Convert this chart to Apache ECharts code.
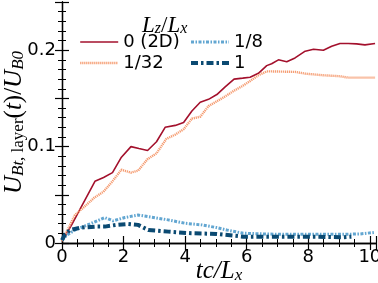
<!DOCTYPE html>
<html><head><meta charset="utf-8">
<script src="https://cdn.jsdelivr.net/npm/echarts@6/dist/echarts.min.js"></script>
<style>html,body{margin:0;padding:0;background:#fff}#c{width:378px;height:283px}</style>
</head><body><div id="c"></div>
<script>
const seriesNames = ['0 (2D)', '1/32', '1/8', '1'];
const t2D = [0, 0.3, 0.6, 1.07, 1.35, 1.64, 1.93, 2.24, 2.5, 2.78, 3.07, 3.35, 3.68, 3.95, 4.22, 4.49, 4.76, 5.03, 5.30, 5.59, 5.87, 6.11, 6.38, 6.65, 6.81, 7.03, 7.30, 7.57, 7.90, 8.17, 8.49, 8.76, 9.03, 9.30, 9.57, 9.84, 10.17];
const v2D = [0.002, 0.018, 0.036, 0.064, 0.068, 0.073, 0.089, 0.100, 0.098, 0.096, 0.105, 0.120, 0.122, 0.125, 0.137, 0.146, 0.149, 0.154, 0.162, 0.170, 0.171, 0.172, 0.176, 0.184, 0.186, 0.190, 0.188, 0.192, 0.199, 0.201, 0.200, 0.204, 0.207, 0.207, 0.2066, 0.2055, 0.207];
const t32 = [0, 0.42, 0.74, 1.05, 1.34, 1.64, 1.93, 2.24, 2.47, 2.78, 3.07, 3.39, 3.68, 3.95, 4.22, 4.49, 4.76, 5.03, 5.30, 5.59, 5.87, 6.11, 6.38, 6.65, 6.81, 7.57, 7.90, 8.49, 9.03, 9.30, 10.17];
const v32 = [0.002, 0.029, 0.038, 0.047, 0.053, 0.064, 0.076, 0.073, 0.075, 0.087, 0.093, 0.108, 0.1125, 0.118, 0.129, 0.131, 0.142, 0.147, 0.152, 0.158, 0.163, 0.168, 0.174, 0.178, 0.178, 0.1775, 0.1757, 0.174, 0.173, 0.1715, 0.1715];
const t8 = [0, 0.15, 0.42, 0.96, 1.39, 1.66, 2.04, 2.47, 2.91, 3.45, 3.99, 4.53, 5.02, 5.35, 5.89, 6.98, 8.06, 9.14, 9.68, 10.17];
const v8 = [0.003, 0.008, 0.0135, 0.0205, 0.0264, 0.023, 0.0264, 0.029, 0.0268, 0.024, 0.0205, 0.0188, 0.016, 0.0135, 0.0101, 0.009, 0.009, 0.009, 0.0094, 0.011];
const t1 = [0, 0.1, 0.26, 0.63, 1.07, 1.39, 1.77, 2.15, 2.47, 2.80, 3.45, 4.2, 5.02, 5.89, 6.98, 8.06, 9.14, 9.4];
const v1 = [0.003, 0.009, 0.0135, 0.016, 0.017, 0.017, 0.0188, 0.0198, 0.0188, 0.0135, 0.0118, 0.0101, 0.0094, 0.0066, 0.0066, 0.0066, 0.006, 0.0066];
const xTicks = [0, 2, 4, 6, 8, 10];
const yTickLabels = [0, 0.1, 0.2];

const colors = ['#a3102c', '#f59b70', '#62a6d1', '#0b4a72'];
const widths = [1.6, 2.4, 3, 4];
const dashes = ['solid', [1.2, 0.8], [3, 1.5, 1.5, 1.5], [7, 3, 2.5, 3]];

const zip = (a, b) => a.map((x, i) => [x, b[i]]);
const tickFont = {fontFamily: 'DejaVu Sans', fontSize: 18, color: '#000'};
const axisCommon = {
  axisLine: {lineStyle: {color: '#000', width: 1.3}},
  axisTick: {inside: true, length: 7, lineStyle: {color: '#000', width: 1.2}},
  minorTick: {show: true, length: 4, lineStyle: {color: '#000', width: 1}},
  splitLine: {show: false}
};
const xBase = Object.assign({type: 'value', min: 0, max: 10.2, interval: 2}, axisCommon);
xBase.minorTick = Object.assign({splitNumber: 4}, axisCommon.minorTick);
const yBase = Object.assign({type: 'value', min: 0, max: 0.25, interval: 0.05}, axisCommon);
yBase.minorTick = Object.assign({splitNumber: 5}, axisCommon.minorTick);

const serifI = {fontFamily: 'Liberation Serif', fontStyle: 'italic', fontWeight: 'normal', color: '#000'};
const serifN = {fontFamily: 'Liberation Serif', fontStyle: 'normal', fontWeight: 'normal', color: '#000'};
const legText = {fontFamily: 'DejaVu Sans', fontSize: 18, lineHeight: 18, color: '#000'};
const legItem = i => ({name: seriesNames[i], itemStyle: {opacity: 0},
  lineStyle: {color: colors[i], width: widths[i], type: dashes[i]}});
const chart = echarts.init(document.getElementById('c'), null, {renderer: 'canvas'});
chart.setOption({
  animation: false,
  grid: {left: 62, right: 2, top: 2, bottom: 40, containLabel: false, outerBoundsMode: 'none'},
  title: {
    text: '{i|L}{s|z}{n|/}{i|L}{s|x}', left: 137, top: 8,
    textStyle: {fontWeight: 'normal', rich: {
      i: Object.assign({fontSize: 23, lineHeight: 24, verticalAlign: 'bottom'}, serifI),
      n: Object.assign({fontSize: 23, lineHeight: 24, verticalAlign: 'bottom'}, serifN),
      s: Object.assign({fontSize: 16, lineHeight: 13, verticalAlign: 'bottom'}, serifI)
    }}
  },
  legend: [
    {data: [legItem(0), legItem(1)], orient: 'vertical', left: 74, top: 28, itemWidth: 38, itemHeight: 12, itemGap: 3,
     itemStyle: {opacity: 0}, textStyle: legText},
    {data: [legItem(2), legItem(3)], orient: 'vertical', left: 184, top: 28, itemWidth: 38, itemHeight: 12, itemGap: 3,
     itemStyle: {opacity: 0}, textStyle: legText}
  ],
  xAxis: [
    Object.assign({}, xBase, {position: 'bottom',
      axisLabel: Object.assign({margin: 5, showMaxLabel: false,
        formatter: v => xTicks.includes(v) ? String(v) : ''}, tickFont),
      name: '{i|tc/L}{s|x}', nameLocation: 'middle', nameGap: 15, nameMoveOverlap: false,
      nameTextStyle: {rich: {
        i: Object.assign({fontSize: 25, lineHeight: 26, verticalAlign: 'bottom'}, serifI),
        s: Object.assign({fontSize: 17, lineHeight: 13, verticalAlign: 'bottom'}, serifI)
      }}}),
    Object.assign({}, xBase, {position: 'top', axisLabel: {show: false}})
  ],
  yAxis: [
    Object.assign({}, yBase, {position: 'left',
      axisLabel: Object.assign({margin: 6,
        formatter: v => { const k = yTickLabels.find(y => Math.abs(y - v) < 1e-9); return k === undefined ? '' : String(k); }}, tickFont),
      name: '{i|U}{s|Bt,}{r| layer}{n|(}{i|t}{n|)/}{i|U}{s|B0}', nameLocation: 'middle', nameRotate: 90, nameGap: 35, nameMoveOverlap: false,
      nameTextStyle: {rich: {
        i: Object.assign({fontSize: 25, lineHeight: 26, verticalAlign: 'bottom'}, serifI),
        n: Object.assign({fontSize: 25, lineHeight: 26, verticalAlign: 'bottom'}, serifN),
        s: Object.assign({fontSize: 17, lineHeight: 13, verticalAlign: 'bottom'}, serifI),
        r: Object.assign({fontSize: 17, lineHeight: 13, verticalAlign: 'bottom'}, serifN)
      }}}),
    Object.assign({}, yBase, {position: 'right', axisLabel: {show: false}})
  ],
  series: [0, 1, 2, 3].map(i => ({
    name: seriesNames[i], type: 'line', symbol: 'none',
    data: zip([t2D, t32, t8, t1][i], [v2D, v32, v8, v1][i]),
    lineStyle: {color: colors[i], width: widths[i], type: dashes[i]},
    itemStyle: {color: colors[i]}
  }))
});
</script></body></html>
